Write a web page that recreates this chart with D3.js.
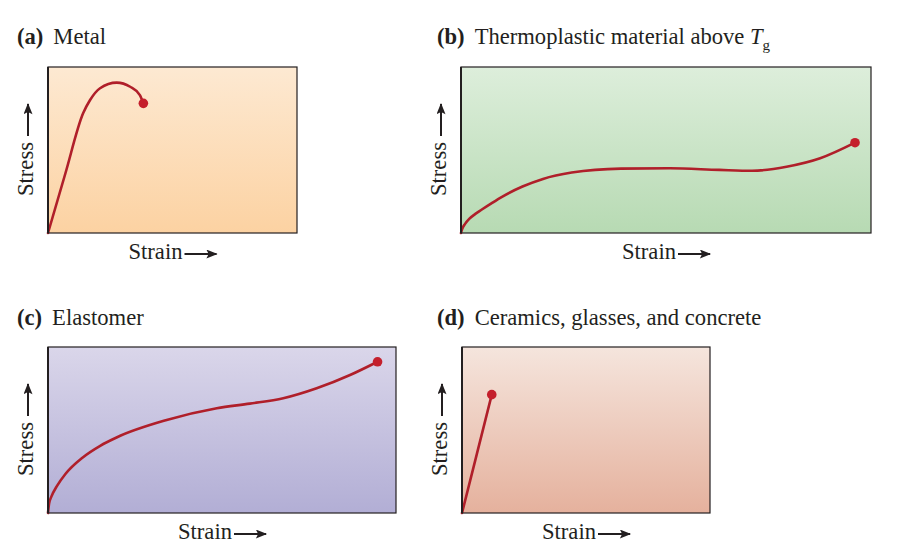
<!DOCTYPE html>
<html>
<head>
<meta charset="utf-8">
<script src="https://cdn.jsdelivr.net/npm/d3@7"></script>
<style>
  html, body { margin: 0; padding: 0; background: #ffffff; }
  svg { display: block; }
  text { font-family: "Liberation Serif", "Times New Roman", serif; fill: #231f20; }
</style>
</head>
<body>
<svg id="chart" width="906" height="557"></svg>
<script>
// ---- data ----
const panelLetters = ["(a)", "(b)", "(c)", "(d)"];
const panelTitles = ["Metal", "Thermoplastic material above ", "Elastomer", "Ceramics, glasses, and concrete"];
const titleItalic = ["", "T", "", ""];
const titleSub = ["", "g", "", ""];
const xLabel = "Strain";
const yLabel = "Stress";

// strain / stress in relative units (0–100 of each panel)
const metalStrain = [0, 7, 14.1, 16.9, 20.9, 27.6, 33.0, 36.9, 38.3];
const metalStress = [0, 36, 72.1, 80.1, 87.2, 90.6, 88.1, 83.1, 78.1];

const thermoStrain = [0, 0.3, 1, 2, 3.5, 5, 7.5, 10, 15, 20, 27, 39, 51, 63, 71, 79.4, 87.6, 96.1];
const thermoStress = [0, 2.5, 5.5, 8.5, 11.5, 14, 18, 21.8, 28, 32.6, 36.4, 38.8, 39.0, 38.0, 37.5, 39.9, 45.0, 54.4];

const elastoStrain = [0, 0.3, 1, 2.5, 5, 10, 15, 19.7, 34.1, 48.5, 58.0, 67.6, 77.2, 86.8, 94.7];
const elastoStress = [0, 5.5, 10, 16, 23.5, 33.5, 40.5, 45.5, 56.0, 63.1, 65.9, 69.1, 75.1, 83.1, 91.1];

const ceramicStrain = [0, 6, 12.0];
const ceramicStress = [0, 35.6, 71.3];

const seriesStrain = [metalStrain, thermoStrain, elastoStrain, ceramicStrain];
const seriesStress = [metalStress, thermoStress, elastoStress, ceramicStress];

// ---- layout / style ----
const boxes = [
  {x: 48,  y: 67,  w: 249, h: 166},
  {x: 461, y: 67,  w: 410, h: 166},
  {x: 48,  y: 347, w: 348, h: 166},
  {x: 462, y: 347, w: 248, h: 166}
];
const titlePos = [
  {x: 17, y: 44}, {x: 437, y: 44}, {x: 17, y: 325}, {x: 437, y: 325}
];
const gradStops = [
  ["#fde9d2", "#fcd2a2"],
  ["#ddeedb", "#b7dab3"],
  ["#dad6ea", "#b2aed5"],
  ["#f5e5dd", "#e5b19d"]
];
const curveColor = "#b01f2a";
const dotColor = "#c41f2c";
const ink = "#231f20";
const fontSize = 22.6;

const svg = d3.select("#chart");
const defs = svg.append("defs");

defs.append("marker")
  .attr("id", "arrowhead")
  .attr("viewBox", "0 0 10 8")
  .attr("refX", 9).attr("refY", 4)
  .attr("markerWidth", 13).attr("markerHeight", 9)
  .attr("markerUnits", "userSpaceOnUse")
  .attr("orient", "auto")
  .append("path")
  .attr("d", "M0,0 L10,4 L0,8 L2,4 Z")
  .attr("fill", ink);

gradStops.forEach((g, i) => {
  const lg = defs.append("linearGradient")
    .attr("id", "grad" + i)
    .attr("x1", 0).attr("y1", 0).attr("x2", 0).attr("y2", 1);
  lg.append("stop").attr("offset", "0%").attr("stop-color", g[0]);
  lg.append("stop").attr("offset", "100%").attr("stop-color", g[1]);
});

boxes.forEach((b, i) => {
  const g = svg.append("g");
  const x = d3.scaleLinear().domain([0, 100]).range([b.x, b.x + b.w]);
  const y = d3.scaleLinear().domain([0, 100]).range([b.y + b.h, b.y]);

  // background
  g.append("rect")
    .attr("x", b.x).attr("y", b.y).attr("width", b.w).attr("height", b.h)
    .attr("fill", `url(#grad${i})`);

  // curve
  const pts = seriesStrain[i].map((s, k) => [s, seriesStress[i][k]]);
  const line = d3.line()
    .x(d => x(d[0])).y(d => y(d[1]))
    .curve(d3.curveMonotoneX);
  g.append("path")
    .attr("d", line(pts))
    .attr("fill", "none")
    .attr("stroke", curveColor)
    .attr("stroke-width", 2.6)
    .attr("stroke-linecap", "round");

  // fracture point
  const last = pts[pts.length - 1];
  g.append("circle")
    .attr("cx", x(last[0])).attr("cy", y(last[1]))
    .attr("r", 4.8)
    .attr("fill", dotColor);

  // border
  g.append("rect")
    .attr("x", b.x).attr("y", b.y).attr("width", b.w).attr("height", b.h)
    .attr("fill", "none").attr("stroke", ink).attr("stroke-width", 1.2);
  g.append("line")
    .attr("x1", b.x).attr("x2", b.x).attr("y1", b.y).attr("y2", b.y + b.h)
    .attr("stroke", ink).attr("stroke-width", 2);

  // title
  const t = g.append("text")
    .attr("x", titlePos[i].x).attr("y", titlePos[i].y)
    .attr("font-size", fontSize);
  t.append("tspan").attr("font-weight", "bold").text(panelLetters[i]);
  t.append("tspan").attr("dx", 10).text(panelTitles[i]);
  if (titleItalic[i]) {
    t.append("tspan").attr("font-style", "italic").text(titleItalic[i]);
    t.append("tspan").attr("font-size", 15).attr("dy", 6).text(titleSub[i]);
  }

  // x label with arrow (centered under box)
  const cx = b.x + b.w / 2;
  const xl = g.append("text")
    .attr("font-size", fontSize)
    .attr("y", b.y + b.h + 26)
    .text(xLabel);
  const xw = xl.node().getComputedTextLength();
  const arrowLen = 32, gap = 2;
  const total = xw + gap + arrowLen;
  const xs = cx - total / 2;
  xl.attr("x", xs);
  const ay = b.y + b.h + 21;
  g.append("line")
    .attr("x1", xs + xw + gap).attr("x2", xs + total)
    .attr("y1", ay).attr("y2", ay)
    .attr("stroke", ink).attr("stroke-width", 2)
    .attr("marker-end", "url(#arrowhead)");

  // y label with arrow (rotated, centered beside box)
  const cy = b.y + b.h / 2;
  const lx = b.x - 15;
  const yl = g.append("text")
    .attr("font-size", fontSize)
    .text(yLabel);
  const yw = yl.node().getComputedTextLength();
  const ytotal = yw + 6 + arrowLen;
  const ys = cy + ytotal / 2;
  yl.attr("transform", `translate(${lx},${ys}) rotate(-90)`);
  const axLine = lx - 5;
  g.append("line")
    .attr("x1", axLine).attr("x2", axLine)
    .attr("y1", ys - yw - 6).attr("y2", ys - ytotal)
    .attr("stroke", ink).attr("stroke-width", 2)
    .attr("marker-end", "url(#arrowhead)");
});
</script>
</body>
</html>
